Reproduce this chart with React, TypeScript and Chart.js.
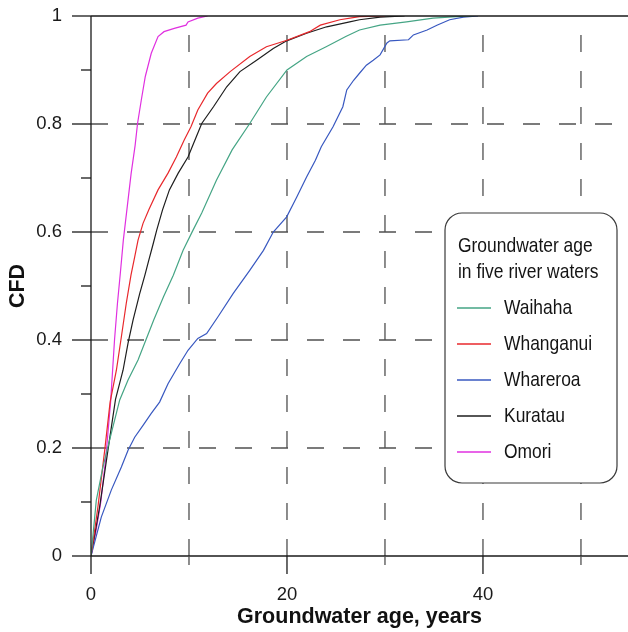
import React, { useEffect, useRef } from 'react';
import { Chart, registerables } from 'chart.js';

Chart.register(...registerables);

// ---- data ----
const seriesNames = ['Waihaha', 'Whanganui', 'Whareroa', 'Kuratau', 'Omori'];
const seriesColors = ['#45a585', '#e8282c', '#3858c0', '#1e1e1e', '#e030e0'];

const waihahaAge = [0, 0.54, 1.22, 2.07, 2.93, 3.78, 4.8, 5.6, 6.4, 7.4, 8.4, 9.4, 10.4, 11.3, 12.8, 14.4, 16.2, 17.9, 20, 22, 24, 26, 27.4, 29.5, 32.2, 34.9, 37.3, 39];
const waihahaCfd = [0, 0.103, 0.165, 0.227, 0.289, 0.326, 0.363, 0.4, 0.437, 0.48, 0.52, 0.566, 0.603, 0.635, 0.696, 0.752, 0.801, 0.85, 0.9, 0.925, 0.943, 0.962, 0.974, 0.983, 0.989, 0.996, 0.999, 1];

const whanganuiAge = [0, 0.7, 1.4, 1.95, 2.59, 3.1, 3.6, 4.08, 4.46, 4.8, 5.31, 5.9, 6.84, 7.86, 8.71, 9.5, 10.2, 10.9, 11.9, 12.8, 14.2, 16.2, 17.9, 20, 22.3, 23.4, 25.4, 27.4, 30];
const whanganuiCfd = [0, 0.09, 0.196, 0.285, 0.344, 0.406, 0.468, 0.52, 0.554, 0.585, 0.616, 0.641, 0.678, 0.709, 0.739, 0.77, 0.795, 0.826, 0.857, 0.875, 0.897, 0.925, 0.943, 0.955, 0.971, 0.983, 0.993, 0.999, 1];

const whareroaAge = [0, 1.05, 2.07, 3.1, 3.78, 4.46, 5.31, 6.15, 7.0, 7.86, 9.05, 9.9, 10.9, 11.8, 12.96, 14.5, 16.2, 17.6, 18.6, 19.97, 21, 22, 22.9, 23.5, 24.7, 25.7, 26.1, 26.8, 27.4, 28.1, 28.8, 29.5, 30.2, 30.5, 32.4, 32.9, 34.3, 35.3, 36.6, 38, 39.5];
const whareroaCfd = [0, 0.072, 0.122, 0.165, 0.196, 0.22, 0.242, 0.264, 0.285, 0.319, 0.356, 0.381, 0.403, 0.412, 0.443, 0.486, 0.529, 0.566, 0.6, 0.628, 0.665, 0.702, 0.733, 0.758, 0.795, 0.832, 0.863, 0.881, 0.894, 0.909, 0.918, 0.928, 0.95, 0.954, 0.956, 0.965, 0.974, 0.983, 0.993, 0.998, 1];

const kuratauAge = [0, 0.88, 1.73, 2.5, 3.27, 3.78, 4.29, 4.97, 5.5, 5.9, 6.3, 6.7, 7.3, 8.0, 8.9, 9.9, 10.6, 11.3, 12.5, 13.85, 15.2, 16.9, 18.6, 19.97, 22, 24.05, 26.4, 27.4, 29.5, 32];
const kuratauCfd = [0, 0.091, 0.196, 0.29, 0.344, 0.394, 0.437, 0.486, 0.52, 0.548, 0.575, 0.603, 0.641, 0.678, 0.709, 0.739, 0.77, 0.801, 0.832, 0.869, 0.897, 0.918, 0.94, 0.954, 0.968, 0.98, 0.989, 0.993, 0.998, 1];

const omoriAge = [0, 0.5, 1, 1.5, 2, 2.4, 2.7, 3.0, 3.3, 3.7, 4.1, 4.5, 4.75, 5.13, 5.54, 6.15, 6.84, 7.45, 8.5, 9.7, 9.9, 10.9, 11.9];
const omoriCfd = [0, 0.045, 0.1, 0.18, 0.285, 0.4, 0.468, 0.525, 0.585, 0.647, 0.709, 0.76, 0.801, 0.844, 0.888, 0.931, 0.962, 0.971, 0.977, 0.983, 0.989, 0.996, 1];

const seriesAges = [waihahaAge, whanganuiAge, whareroaAge, kuratauAge, omoriAge];
const seriesCfds = [waihahaCfd, whanganuiCfd, whareroaCfd, kuratauCfd, omoriCfd];

const xMin = 0;
const xMax = 54.8;
const xTickValues = [0, 10, 20, 30, 40, 50];
const xTickLabels = ['0', '', '20', '', '40', ''];
const xMajorTicks = [0, 20, 40];
const xMinorTicks = [10, 30, 50];
const yTickValues = [0, 0.1, 0.2, 0.3, 0.4, 0.5, 0.6, 0.7, 0.8, 0.9, 1];
const yTickLabels = ['0', '', '0.2', '', '0.4', '', '0.6', '', '0.8', '', '1'];
const yMajorTicks = [0, 0.2, 0.4, 0.6, 0.8, 1];
const yMinorTicks = [0.1, 0.3, 0.5, 0.7, 0.9];
const gridAges = [10, 20, 30, 40, 50];
const gridCfds = [0.2, 0.4, 0.6, 0.8];

const xTitle = 'Groundwater age, years';
const yTitle = 'CFD';
const legendTitle = ['Groundwater age', 'in five river waters'];

const FONT = "'Liberation Sans', Arial, Helvetica, sans-serif";

const framePlugin = {
  id: 'frame',
  beforeDatasetsDraw(chart: any) {
    const { ctx, chartArea } = chart;
    const { left, right, top, bottom } = chartArea;
    const x = chart.scales.x;
    const y = chart.scales.y;
    ctx.save();
    ctx.beginPath();
    ctx.rect(left, top, right - left, bottom - top);
    ctx.clip();
    ctx.strokeStyle = '#505050';
    ctx.lineWidth = 1.3;
    ctx.setLineDash([17, 19]);
    gridAges.forEach((v) => {
      const px = x.getPixelForValue(v);
      ctx.beginPath();
      ctx.moveTo(px, bottom);
      ctx.lineTo(px, top);
      ctx.stroke();
    });
    gridCfds.forEach((v) => {
      const py = y.getPixelForValue(v);
      ctx.beginPath();
      ctx.moveTo(left, py);
      ctx.lineTo(right, py);
      ctx.stroke();
    });
    ctx.restore();
  },
  afterDatasetsDraw(chart: any) {
    const { ctx, chartArea } = chart;
    const { left, right, top, bottom } = chartArea;
    const x = chart.scales.x;
    const y = chart.scales.y;
    ctx.save();
    ctx.strokeStyle = '#1a1a1a';
    ctx.lineWidth = 1.3;
    ctx.setLineDash([]);
    const line = (x1: number, y1: number, x2: number, y2: number) => {
      ctx.beginPath();
      ctx.moveTo(x1, y1);
      ctx.lineTo(x2, y2);
      ctx.stroke();
    };
    // axes
    line(left, top, left, bottom);
    line(left, bottom, right, bottom);
    line(left, top, right, top);
    // y ticks
    yMajorTicks.forEach((v) => {
      const py = y.getPixelForValue(v);
      line(left - 19, py, left, py);
    });
    yMinorTicks.forEach((v) => {
      const py = y.getPixelForValue(v);
      line(left - 10, py, left, py);
    });
    // x ticks
    xMajorTicks.forEach((v) => {
      const px = x.getPixelForValue(v);
      line(px, bottom, px, bottom + 18);
    });
    ctx.strokeStyle = '#505050';
    xMinorTicks.forEach((v) => {
      const px = x.getPixelForValue(v);
      line(px, bottom, px, bottom + 9);
    });

    // legend box
    const bx = right - 183;
    const by = top + 197;
    const bw = 172;
    const bh = 270;
    ctx.beginPath();
    if ((ctx as any).roundRect) {
      (ctx as any).roundRect(bx, by, bw, bh, 17);
    } else {
      ctx.rect(bx, by, bw, bh);
    }
    ctx.fillStyle = '#ffffff';
    ctx.fill();
    ctx.strokeStyle = '#3a3a3a';
    ctx.lineWidth = 1.2;
    ctx.stroke();

    const drawNarrow = (text: string, tx: number, ty: number) => {
      ctx.save();
      ctx.translate(tx, ty);
      ctx.scale(0.83, 1);
      ctx.fillText(text, 0, 0);
      ctx.restore();
    };
    ctx.fillStyle = '#141414';
    ctx.font = `21px ${FONT}`;
    ctx.textAlign = 'left';
    ctx.textBaseline = 'middle';
    drawNarrow(legendTitle[0], bx + 13, by + 33);
    drawNarrow(legendTitle[1], bx + 13, by + 59);
    const ds = chart.data.datasets;
    ds.forEach((d: any, i: number) => {
      const iy = by + 95 + i * 36;
      ctx.strokeStyle = d.borderColor;
      ctx.lineWidth = 1.3;
      line(bx + 12, iy, bx + 46, iy);
      ctx.fillStyle = '#141414';
      drawNarrow(d.label, bx + 59, iy);
    });
    ctx.restore();
  },
};

export default function App() {
  const canvasRef = useRef<HTMLCanvasElement | null>(null);

  useEffect(() => {
    const canvas = canvasRef.current;
    if (!canvas) return;
    const datasets = seriesNames.map((name, i) => ({
      label: name,
      data: seriesAges[i].map((a, j) => ({ x: a, y: seriesCfds[i][j] })),
      borderColor: seriesColors[i],
      backgroundColor: seriesColors[i],
      borderWidth: 1.2,
      pointRadius: 0,
      tension: 0,
      fill: false,
    }));
    const chart = new Chart(canvas, {
      type: 'line',
      data: { datasets },
      options: {
        animation: false,
        responsive: false,
        maintainAspectRatio: false,
        layout: { padding: { top: 16, left: 0, right: 0, bottom: 0 } },
        plugins: { legend: { display: false }, tooltip: { enabled: false } },
        scales: {
          x: {
            type: 'linear',
            min: xMin,
            max: xMax,
            grid: { display: false, drawTicks: false },
            border: { display: false },
            afterBuildTicks: (s: any) => {
              s.ticks = xTickValues.map((v) => ({ value: v }));
            },
            afterFit: (s: any) => {
              s.height = 76;
              s.paddingLeft = 0;
              s.paddingRight = 0;
            },
            ticks: {
              autoSkip: false,
              maxRotation: 0,
              padding: 28,
              color: '#1a1a1a',
              font: { family: FONT, size: 18.5 },
              callback: (_v: any, idx: number) => xTickLabels[idx],
            },
            title: {
              display: true,
              text: xTitle,
              color: '#111',
              font: { family: FONT, size: 21.5, weight: 'bold' },
              padding: { top: 0, bottom: 2 },
            },
          },
          y: {
            type: 'linear',
            min: 0,
            max: 1,
            grid: { display: false, drawTicks: false },
            border: { display: false },
            afterBuildTicks: (s: any) => {
              s.ticks = yTickValues.map((v) => ({ value: v }));
            },
            afterFit: (s: any) => {
              s.width = 91;
              s.paddingTop = 0;
              s.paddingBottom = 0;
            },
            ticks: {
              autoSkip: false,
              padding: 29,
              color: '#1a1a1a',
              font: { family: FONT, size: 18.5 },
              callback: (_v: any, idx: number) => yTickLabels[idx],
            },
            title: {
              display: true,
              text: yTitle,
              color: '#111',
              font: { family: FONT, size: 21.5, weight: 'bold' },
              padding: { top: 5, bottom: 0 },
            },
          },
        },
      } as any,
      plugins: [framePlugin],
    });
    return () => chart.destroy();
  }, []);

  return (
    <div style={{ position: 'absolute', left: 0, top: 0, width: 628, height: 632, background: '#fff' }}>
      <canvas ref={canvasRef} width={628} height={632} style={{ display: 'block' }} />
    </div>
  );
}
